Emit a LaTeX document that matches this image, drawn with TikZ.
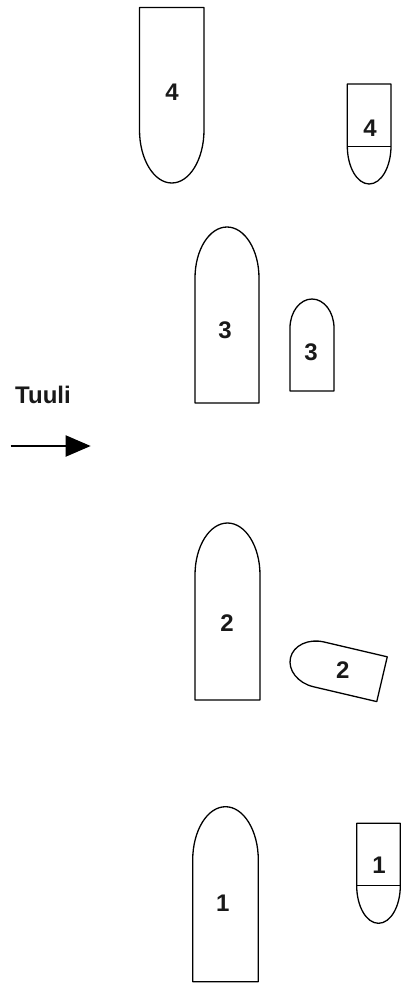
\documentclass[tikz,border=0pt]{standalone}
\usepackage{fontspec}
\setmainfont{Liberation Sans}
\usetikzlibrary{arrows.meta}
\tikzset{
  outline/.style={draw=black, line width=1.3pt, line join=round},
  sep/.style={draw=black, line width=0.6pt},
  lbl/.style={font=\fontsize{24}{28}\selectfont\bfseries, inner sep=0pt, text=black!90},
}
\begin{document}
\begin{tikzpicture}[x=1pt,y=-1pt]
\useasboundingbox (0,0) rectangle (401,983);
% boat 4 big
\draw[outline] (139.5,7.5) -- (204,7.5) -- (204,130) .. controls (204,159.27) and (189.56,183) .. (171.75,183) .. controls (153.94,183) and (139.5,159.27) .. (139.5,130) -- cycle;
% boat 4 small
\draw[outline] (347.3,84) -- (391,84) -- (391,146) .. controls (391,166.99) and (381.22,184) .. (369.15,184) .. controls (357.08,184) and (347.3,166.99) .. (347.3,146) -- cycle;
\draw[sep] (347.3,146) -- (391,146);
% boat 3 big
\draw[outline] (195,403) -- (259,403) -- (259,278) .. controls (259,249.83) and (244.67,227) .. (227,227) .. controls (209.33,227) and (195,249.83) .. (195,278) -- cycle;
% boat 3 small
\draw[outline] (290,391) -- (334,391) -- (334,328) .. controls (334,311.98) and (324.15,299) .. (312,299) .. controls (299.85,299) and (290,311.98) .. (290,328) -- cycle;
% boat 2 big
\draw[outline] (195,700) -- (260,700) -- (260,575) .. controls (260,546.28) and (245.45,523) .. (227.5,523) .. controls (209.55,523) and (195,546.28) .. (195,575) -- cycle;
% boat 2 small (rotated)
\begin{scope}[shift={(382,679.2)}, rotate=166.8]
\draw[outline] (0,-23) -- (65,-23) .. controls (81.02,-23) and (94,-12.70) .. (94,0) .. controls (94,12.70) and (81.02,23) .. (65,23) -- (0,23) -- cycle;
\end{scope}
% boat 1 big
\draw[outline] (192.7,981.7) -- (258.3,981.7) -- (258.3,860) .. controls (258.3,830.56) and (243.62,806.7) .. (225.5,806.7) .. controls (207.38,806.7) and (192.7,830.56) .. (192.7,860) -- cycle;
% boat 1 small
\draw[outline] (356.7,823.3) -- (400.3,823.3) -- (400.3,885.7) .. controls (400.3,906.47) and (390.54,923.3) .. (378.5,923.3) .. controls (366.46,923.3) and (356.7,906.47) .. (356.7,885.7) -- cycle;
\draw[sep] (356.7,885.7) -- (400.3,885.7);
% labels
\node[lbl] (b4) at (172,92.5) {4};
\node[lbl] (s4) at (370,128) {4};
\node[lbl] (b3) at (225,330) {3};
\node[lbl] (s3) at (311,352) {3};
\node[lbl] (b2) at (227,623) {2};
\node[lbl] (s2) at (342.7,670) {2};
\node[lbl] (b1) at (222.7,903) {1};
\node[lbl] (s1) at (379,865) {1};
% wind
\node[lbl] (tuuli) at (43,395) {Tuuli};
\coordinate (wa) at (10.7,446);
\coordinate (wb) at (90.7,446);
\draw[line width=2pt, -{Triangle[length=25pt,width=21pt]}] (wa) -- (wb);
\end{tikzpicture}
\end{document}
